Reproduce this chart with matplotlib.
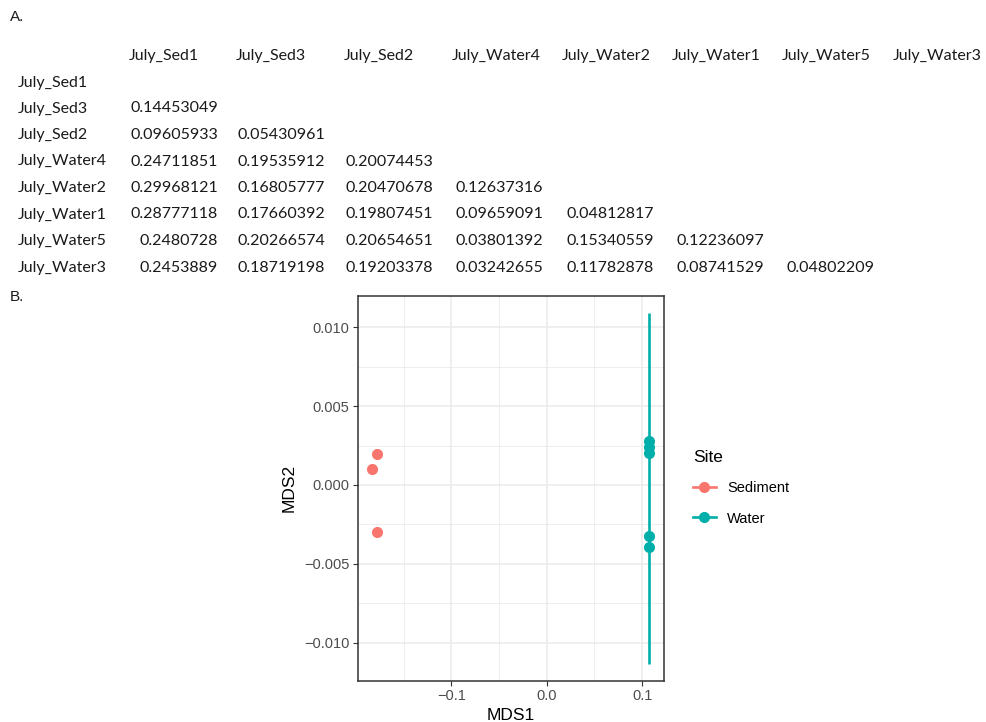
import matplotlib
matplotlib.use("Agg")
import matplotlib.pyplot as plt
from matplotlib.lines import Line2D

W, H = 987, 722

# ---------------- data ----------------
samples = ["July_Sed1", "July_Sed3", "July_Sed2", "July_Water4",
           "July_Water2", "July_Water1", "July_Water5", "July_Water3"]
dist_rows = [
    [],
    ["0.14453049"],
    ["0.09605933", "0.05430961"],
    ["0.24711851", "0.19535912", "0.20074453"],
    ["0.29968121", "0.16805777", "0.20470678", "0.12637316"],
    ["0.28777118", "0.17660392", "0.19807451", "0.09659091", "0.04812817"],
    ["0.2480728", "0.20266574", "0.20654651", "0.03801392", "0.15340559", "0.12236097"],
    ["0.2453889", "0.18719198", "0.19203378", "0.03242655", "0.11782878", "0.08741529", "0.04802209"],
]

sed_x = [-0.1784, -0.1836, -0.1784]
sed_y = [0.00197, 0.00100, -0.00298]
water_x = [0.1077, 0.1077, 0.1077, 0.1077, 0.1077]
water_y = [0.00281, 0.00243, 0.00205, -0.00321, -0.00395]
ellipse_x = [0.1077, 0.1077]
ellipse_y = [0.01093, -0.01135]

x_ticks = [-0.1, 0.0, 0.1]
x_ticklabels = ["\u22120.1", "0.0", "0.1"]
y_ticks = [-0.010, -0.005, 0.000, 0.005, 0.010]
y_ticklabels = ["\u22120.010", "\u22120.005", "0.000", "0.005", "0.010"]
x_minor = [-0.15, -0.05, 0.05]
y_minor = [-0.0075, -0.0025, 0.0025, 0.0075]

sed_color = "#F8766D"
water_color = "#00AFA9"

# ---------------- figure ----------------
fig = plt.figure(figsize=(W / 100, H / 100), dpi=100)
fig.patch.set_facecolor("white")


def fx(x):
    return x / W


def fy(y):
    return 1 - y / H


tfont = "Lato"
tsize = 11.5
tcol = "#1a1a1a"

fig.text(fx(10), fy(17), "A.", fontsize=11, family="Liberation Sans",
         ha="left", va="center", color=tcol)
fig.text(fx(10), fy(297), "B.", fontsize=11, family="Liberation Sans",
         ha="left", va="center", color=tcol)

header_x = [129, 236, 344, 452, 562, 672, 782, 893]
value_right = [218, 325, 433, 543, 654, 764, 875]
header_y = 56
row_y = [82.5, 108.5, 135, 161.5, 188, 214.5, 241, 267.5]

for name, hx in zip(samples, header_x):
    fig.text(fx(hx), fy(header_y), name, fontsize=tsize, family=tfont,
             ha="left", va="center", color=tcol)
for i, (name, vals) in enumerate(zip(samples, dist_rows)):
    fig.text(fx(18), fy(row_y[i]), name, fontsize=tsize, family=tfont,
             ha="left", va="center", color=tcol)
    for j, v in enumerate(vals):
        fig.text(fx(value_right[j]), fy(row_y[i]), v, fontsize=tsize,
                 family=tfont, ha="right", va="center", color=tcol)

# ---------------- MDS panel ----------------
left, right, top, bottom = 358, 664, 296, 681
ax = fig.add_axes([fx(left), fy(bottom), (right - left) / W, (bottom - top) / H])
ax.set_xlim(-0.198, 0.123)
ax.set_ylim(-0.01243, 0.01198)

for v in x_minor:
    ax.axvline(v, color="#EBEBEB", lw=0.6, zorder=0)
for v in y_minor:
    ax.axhline(v, color="#EBEBEB", lw=0.6, zorder=0)
for v in x_ticks:
    ax.axvline(v, color="#EBEBEB", lw=1.1, zorder=0)
for v in y_ticks:
    ax.axhline(v, color="#EBEBEB", lw=1.1, zorder=0)

ax.plot(ellipse_x, ellipse_y, color=water_color, lw=1.9, zorder=2,
        solid_capstyle="butt")
ax.plot(sed_x, sed_y, "o", color=sed_color, ms=8, mew=0, zorder=3)
ax.plot(water_x, water_y, "o", color=water_color, ms=8, mew=0, zorder=3)

ax.set_xticks(x_ticks)
ax.set_xticklabels(x_ticklabels)
ax.set_yticks(y_ticks)
ax.set_yticklabels(y_ticklabels)
ax.tick_params(axis="both", length=3.5, width=0.8, color="#333333",
               labelcolor="#4D4D4D", labelsize=10.5, pad=2.5)
for lab in ax.get_xticklabels() + ax.get_yticklabels():
    lab.set_family("Liberation Sans")
for s in ax.spines.values():
    s.set_color("#333333")
    s.set_linewidth(1.1)

fig.text(fx(511), fy(716), "MDS1", fontsize=12.5, family="Liberation Sans",
         ha="center", va="center", color="black")
fig.text(fx(289), fy(488), "MDS2", fontsize=12.5, family="Liberation Sans",
         ha="center", va="center", rotation=90, color="black")

# ---------------- legend ----------------
handles = [
    Line2D([0], [0], color=sed_color, lw=1.9, marker="o", ms=8, mew=0),
    Line2D([0], [0], color=water_color, lw=1.9, marker="o", ms=8, mew=0),
]
leg = fig.legend(handles, ["Sediment", "Water"], title="Site",
                 loc="upper left", bbox_to_anchor=(fx(687), fy(444)),
                 frameon=False, prop={"family": "Liberation Sans", "size": 10.5},
                 title_fontproperties={"family": "Liberation Sans", "size": 12.5},
                 handlelength=1.6, handletextpad=0.75, labelspacing=1.1,
                 borderaxespad=0, alignment="left")
leg._legend_box.sep = 12

fig.savefig("out.png", dpi=100, facecolor="white")
